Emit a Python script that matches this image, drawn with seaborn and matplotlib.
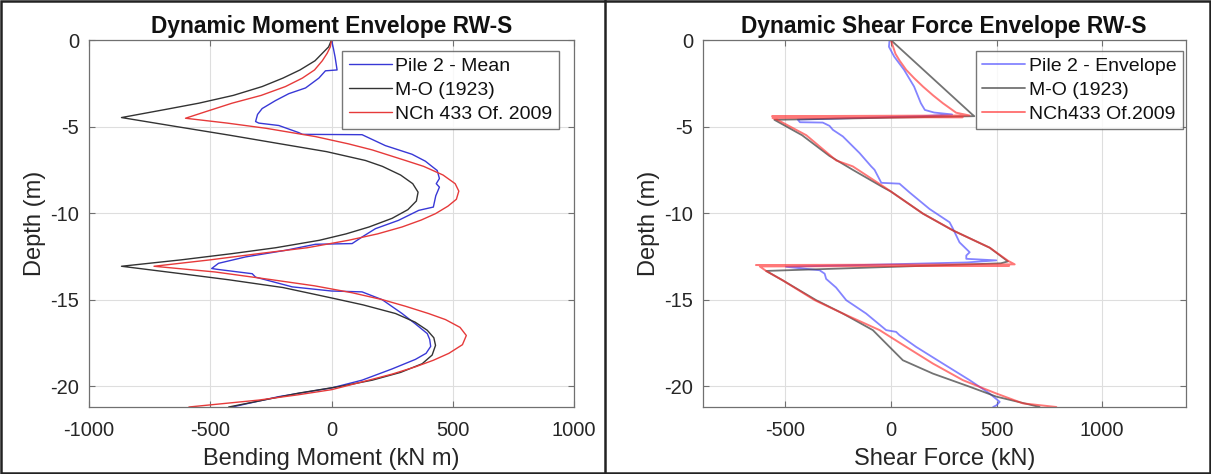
import numpy as np
import pandas as pd
import matplotlib
matplotlib.use("Agg")
import matplotlib.pyplot as plt
import seaborn as sns
from matplotlib.lines import Line2D

# ---------------- data: bending moment (left panel) ----------------
pile_mean_depth = [0, -0.5, -1.0, -1.73, -1.78, -2.2, -2.77, -3.1, -3.5, -3.96, -4.3, -4.71,
                   -4.8, -4.94, -5.35, -5.45, -5.47, -6.1, -6.6, -7.0, -7.3, -7.54, -8.0, -8.3,
                   -8.5, -9.0, -9.65, -9.84, -10.42, -10.9, -11.38, -11.76, -11.8, -12.15,
                   -12.53, -12.9, -13.2, -13.25, -13.5, -13.7, -14.26, -14.5, -14.55, -15.0,
                   -15.8, -16.4, -16.96, -17.3, -17.7, -18.1, -18.45, -19.0, -19.65, -20.1,
                   -20.6, -21.2]
pile_mean_moment = [0, 8, 15, 23, -25, -52, -107, -176, -231, -286, -305, -313,
                    -300, -217, -135, -120, 126, 222, 332, 387, 414, 436, 445, 432,
                    445, 430, 420, 360, 276, 181, 126, 85, -66, -190,
                    -354, -466, -494, -470, -327, -313, -162, 0, 126, 209,
                    291, 346, 395, 405, 409, 390, 346, 250, 126, 0,
                    -217, -410]

mo_m_depth = [0, -0.4, -0.77, -1.2, -1.73, -2.2, -2.69, -3.2, -3.65, -4.0, -4.48,
              -5.0, -5.5, -6.0, -6.45, -6.96, -7.3, -7.8, -8.3, -8.79, -9.3, -9.8,
              -10.3, -10.8, -11.2, -11.57, -12.0, -12.34, -12.7, -13.07,
              -13.5, -13.85, -14.3, -14.9, -15.3, -15.8, -16.3, -16.77, -17.2, -17.64,
              -18.2, -18.7, -19.2, -19.65, -20.0, -20.4, -20.8, -21.2]
mo_moment = [0, -12, -38, -68, -130, -200, -286, -405, -547, -680, -866,
             -640, -420, -210, -20, 140, 210, 285, 335, 357, 350, 315,
             250, 155, 60, -50, -230, -410, -620, -866,
             -620, -424, -200, 0, 130, 264, 345, 395, 422, 429,
             415, 374, 285, 168, 40, -136, -280, -424]

nch_m_depth = [0, -0.4, -0.77, -1.2, -1.73, -2.2, -2.69, -3.2, -3.65, -4.1, -4.52,
               -4.8, -5.1, -5.58, -6.0, -6.35, -6.96, -7.3, -7.8, -8.3, -8.73, -9.2,
               -9.6, -10.03, -10.4, -10.8, -11.2, -11.57, -12.0, -12.34, -12.7, -13.07,
               -13.4, -13.85, -14.2, -14.6, -15.0, -15.38, -15.8, -16.15, -16.6, -17.07,
               -17.6, -18.1, -18.5, -18.88, -19.3, -19.65, -20.2, -20.5, -20.8, -21.2]
nch_moment = [0, -5, -18, -38, -70, -120, -190, -290, -410, -510, -602,
              -430, -270, -66, 70, 168, 305, 380, 460, 510, 525, 515,
              480, 429, 370, 291, 190, 70, -100, -300, -500, -732,
              -480, -245, -70, 85, 210, 305, 400, 470, 530, 556,
              540, 484, 420, 346, 250, 154, 0, -140, -300, -588]

# ---------------- data: shear force (right panel) ----------------
pile_env_depth = [0, -0.39, -0.96, -1.73, -2.69, -3.65, -4.04, -4.19, -4.3, -4.4, -4.6, -4.75,
                  -4.77, -4.96, -5.19, -5.57, -6.53, -7.3, -7.5, -8.25, -8.3, -8.8, -9.76,
                  -10.53, -10.9, -11.69, -12.26, -12.45, -12.64, -12.73, -12.85, -13.1,
                  -13.3, -13.5, -13.8, -14.3, -15.03, -15.8, -16.76, -16.86, -17.05,
                  -17.73, -18.69, -19.65, -20.42, -20.9, -21.1, -21.2]
pile_env_shear = [-6, -9, 16, 63, 110, 142, 161, 205, 290, 150, -440, -430,
                  -322, -290, -274, -227, -148, -93, -77, -45, 41, 88, 183,
                  278, 294, 325, 373, 357, 357, 499, 360, -496,
                  -337, -313, -306, -259, -211, -117, -22, 25, 41,
                  120, 246, 373, 467, 515, 500, 484]

mo_v_depth = [0, -4.3, -4.4, -4.61, -5.5, -6.7, -7.5, -8.5, -8.75, -10.03, -11.0, -12.0,
              -12.79, -12.9, -13.34, -13.88, -15.03, -15.8, -16.76, -17.73, -18.5, -19.27,
              -20.03, -20.6, -21.2]
mo_shear = [0, 385, 395, -551, -420, -290, -180, -38, 0, 152, 294, 468,
            554, 520, -590, -512, -353, -227, -85, -6, 57, 199,
            373, 499, 704]

nch_v_depth = [0, -0.8, -1.2, -1.73, -2.2, -2.69, -3.2, -3.65, -4.2, -4.36, -4.40, -4.46,
               -4.50, -4.62, -5.5, -6.96, -7.3, -8.5, -8.75, -10.03, -11.0, -12.0, -12.75,
               -12.96, -13.0, -13.04, -13.08, -13.34, -13.88, -15.03, -15.8, -16.76,
               -17.73, -18.69, -19.65, -20.42, -20.99, -21.2]
nch_shear = [0, 22, 42, 73, 110, 152, 200, 246, 309, 372, -562, 340,
             -560, -535, -400, -258, -180, -30, 0, 152, 294, 468, 554,
             586, -638, 560, -620, -590, -512, -360, -227, -53,
             73, 199, 341, 499, 625, 783]

# ---------------- styling ----------------
sns.set_theme(style="white")
plt.rcParams["font.family"] = ["Liberation Sans", "DejaVu Sans"]
plt.rcParams["axes.unicode_minus"] = False

fig = plt.figure(figsize=(12.11, 4.74), dpi=100)
ax1 = fig.add_axes([89 / 1211, 1 - 407 / 474, 485 / 1211, 367 / 474])
ax2 = fig.add_axes([702.7 / 1211, 1 - 407 / 474, 483 / 1211, 367 / 474])

edge = "#707070"
txt = "#262626"


def style_axis(ax, xlim, xticks, title, xlabel):
    ax.set_xlim(*xlim)
    ax.set_ylim(-21.2, 0)
    ax.set_xticks(xticks)
    ax.set_yticks([0, -5, -10, -15, -20])
    ax.grid(True, color="#dedede", linewidth=0.8)
    ax.set_axisbelow(True)
    for s in ax.spines.values():
        s.set_color(edge)
        s.set_linewidth(0.9)
        s.set_visible(True)
    ax.tick_params(direction="in", length=4, width=0.8, color=edge, top=True, right=True,
                   labelsize=14.5, labelcolor=txt, bottom=True, left=True)
    ax.tick_params(axis="x", pad=10)
    ax.tick_params(axis="y", pad=7)
    ax.set_title(title, fontsize=16.4, fontweight="bold", color="#111111", pad=5)
    ax.set_xlabel(xlabel, fontsize=17, color=txt, labelpad=6)
    ax.set_ylabel("Depth (m)", fontsize=17, color=txt, labelpad=3)


def make_legend(ax, colors, lws, alphas, labels, x_anchor):
    handles = [Line2D([], [], color=c, lw=w, alpha=a) for c, w, a in zip(colors, lws, alphas)]
    leg = ax.legend(handles, labels, loc="upper right", bbox_to_anchor=(x_anchor, 0.970),
                    borderaxespad=0, fontsize=14, frameon=True, fancybox=False,
                    handlelength=2.2, handletextpad=0.2, labelspacing=0.32, borderpad=0.33)
    leg.get_frame().set_edgecolor("#555555")
    leg.get_frame().set_linewidth(1.0)
    for t in leg.get_texts():
        t.set_color("#111111")


# left panel
c_blue, c_black, c_red = "#3838d6", "#333333", "#e63a3a"
sns.lineplot(x=pile_mean_moment, y=pile_mean_depth, sort=False, estimator=None, ax=ax1,
             color=c_blue, linewidth=1.0)
sns.lineplot(x=mo_moment, y=mo_m_depth, sort=False, estimator=None, ax=ax1,
             color=c_black, linewidth=1.0)
sns.lineplot(x=nch_moment, y=nch_m_depth, sort=False, estimator=None, ax=ax1,
             color=c_red, linewidth=1.0)
style_axis(ax1, (-1000, 1000), [-1000, -500, 0, 500, 1000],
           "Dynamic Moment Envelope RW-S", "Bending Moment (kN m)")
make_legend(ax1, [c_blue, c_black, c_red], [1.0, 1.0, 1.0], [1, 1, 1],
            ["Pile 2 - Mean", "M-O (1923)", "NCh 433 Of. 2009"], 0.969)

# right panel
r_blue, r_black, r_red = "#5050ff", "#444444", "#ff3030"
sns.lineplot(x=pile_env_shear, y=pile_env_depth, sort=False, estimator=None, ax=ax2,
             color=r_blue, linewidth=1.3, alpha=0.7)
sns.lineplot(x=mo_shear, y=mo_v_depth, sort=False, estimator=None, ax=ax2,
             color=r_black, linewidth=1.3, alpha=0.75)
sns.lineplot(x=nch_shear, y=nch_v_depth, sort=False, estimator=None, ax=ax2,
             color=r_red, linewidth=1.4, alpha=0.65)
style_axis(ax2, (-890, 1395), [-500, 0, 500, 1000],
           "Dynamic Shear Force Envelope RW-S", "Shear Force (kN)")
make_legend(ax2, [r_blue, r_black, r_red], [1.3, 1.3, 1.4], [0.7, 0.75, 0.65],
            ["Pile 2 - Envelope", "M-O (1923)", "NCh433 Of.2009"], 0.994)

# panel frames
fig.patches.append(plt.Rectangle((0.001, 0.002), 0.998, 0.996, transform=fig.transFigure,
                                 fill=False, edgecolor="#222222", linewidth=1.8))
fig.add_artist(Line2D([605 / 1211, 605 / 1211], [0, 1], transform=fig.transFigure,
                      color="#222222", linewidth=1.8))

fig.savefig("out.png", dpi=100, facecolor="white")
